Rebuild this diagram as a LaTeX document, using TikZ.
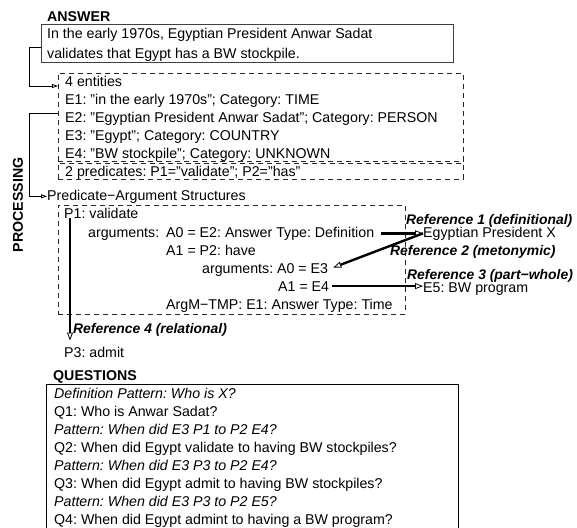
\documentclass[tikz,border=0pt]{standalone}
\usepackage{fontspec}
\setmainfont{Liberation Sans}
\frenchspacing
\usetikzlibrary{arrows.meta,positioning}
\tikzset{txt/.style={anchor=base west, inner sep=0pt, font=\fontsize{14.2}{18}\selectfont}}
\tikzset{hdr/.style={txt, font=\fontsize{14.2}{18}\selectfont\bfseries}}
\tikzset{reflbl/.style={txt, font=\fontsize{13.9}{18}\selectfont\bfseries\itshape}}
\tikzset{pattxt/.style={txt, font=\fontsize{14.2}{18}\selectfont\itshape}}
\tikzset{solidbox/.style={draw, anchor=north west, inner sep=0pt, line width=0.9pt}}
\tikzset{dashbox/.style={draw=black!85, dash pattern=on 5pt off 4pt, line width=0.8pt, anchor=north west, inner sep=0pt}}
\tikzset{conn/.style={draw, line width=0.8pt, -{Triangle[open, length=6pt, width=4pt]}}}
\tikzset{refarr/.style={draw, line width=2.4pt, -{Triangle[open, length=8pt, width=6pt, line width=0.8pt]}}}

\begin{document}
\begin{tikzpicture}[x=1pt, y=-1pt]
		\useasboundingbox (0,0) rectangle (577,527);

		% answer
		\node[hdr] (anshdr) at (47,22) {ANSWER};
		\node[solidbox, line width=1.4pt, draw=black!75, minimum width=412pt, minimum height=38pt] (ans) at (41,24) {};
		\node[txt] (ans1) at (47,39) {In the early 1970s, Egyptian President Anwar Sadat};
		\node[txt] (ans2) at (47,58) {validates that Egypt has a BW stockpile.};

		% processing
		\node[hdr, rotate=90, anchor=center] (proc) at (18,205) {PROCESSING};
		\node[dashbox, minimum width=405pt, minimum height=88pt] (ent) at (58,73) {};
		\node[dashbox, minimum width=405pt, minimum height=16pt] (prd) at (58,163) {};
		\node[txt] (entn) at (65,86) {4 entities};
		\node[txt] (e1) at (65,104) {E1: "in the early 1970s"; Category: TIME};
		\node[txt] (e2) at (65,122) {E2: "Egyptian President Anwar Sadat"; Category: PERSON};
		\node[txt] (e3) at (65,140) {E3: "Egypt"; Category: COUNTRY};
		\node[txt] (e4) at (65,158) {E4: "BW stockpile"; Category: UNKNOWN};
		\node[txt] (preds) at (65,176) {2 predicates: P1="validate"; P2="has"};

		\node[txt] (pas) at (47,200) {Predicate−Argument Structures};
		\node[dashbox, minimum width=347pt, minimum height=109pt] (pasbox) at (58,205) {};
		\node[txt] (p1) at (64,218) {P1: validate};
		\node[txt] (args1) at (88,237) {arguments:};
		\node[txt] (a0e2) at (166,237) {A0 = E2: Answer Type: Definition};
		\node[txt] (a1p2) at (166,255) {A1 = P2: have};
		\node[txt] (a0e3) at (202,273) {arguments: A0 = E3};
		\node[txt] (a1e4) at (278,291) {A1 = E4};
		\node[txt] (argm) at (166,309) {ArgM−TMP: E1: Answer Type: Time};
		\node[txt] (p3) at (64,357) {P3: admit};

		\node[txt] (egx) at (423,237) {Egyptian President X};
		\node[txt] (e5) at (423,292) {E5: BW program};
		\node[reflbl] (ref1) at (406,224) {Reference 1 (definitional)};
		\node[reflbl] (ref2) at (390,255) {Reference 2 (metonymic)};
		\node[reflbl] (ref3) at (407,279) {Reference 3 (part−whole)};
		\node[reflbl] (ref4) at (73,333) {Reference 4 (relational)};

		\draw[conn] ([yshift=-4pt]ans.west) -- ++(-12,0) |- (ent.west |- entn.base);
		\draw[conn] ([yshift=4pt]ent.west) -- ++(-29,0) |- (pas.west);

		\draw[refarr, shorten <=7pt] (a0e2.east) -- (egx.west);
		\draw[refarr] (egx.west) -- ([xshift=5pt, yshift=2pt]a0e3.east);
		\draw[refarr, shorten <=3pt] (a1e4.east) -- (a1e4.east -| e5.west);
		\draw[refarr, shorten >=6pt] ([xshift=6pt]p1.south west) -- ([xshift=6pt]p3.north west);

		% questions
		\node[hdr] (qhdr) at (53,380) {QUESTIONS};
		\node[solidbox, minimum width=412pt, minimum height=150pt] (qbox) at (46,384) {};
		\node[pattxt] (pat0) at (54,398) {Definition Pattern: Who is X?};
		\node[txt] (q1) at (54,416) {Q1: Who is Anwar Sadat?};
		\node[pattxt] (pat1) at (54,434) {Pattern: When did E3 P1 to P2 E4?};
		\node[txt] (q2) at (54,452) {Q2: When did Egypt validate to having BW stockpiles?};
		\node[pattxt] (pat2) at (54,470) {Pattern: When did E3 P3 to P2 E4?};
		\node[txt] (q3) at (54,488) {Q3: When did Egypt admit to having BW stockpiles?};
		\node[pattxt] (pat3) at (54,506) {Pattern: When did E3 P3 to P2 E5?};
		\node[txt] (q4) at (54,524) {Q4: When did Egypt admint to having a BW program?};
	\end{tikzpicture}
\end{document}
